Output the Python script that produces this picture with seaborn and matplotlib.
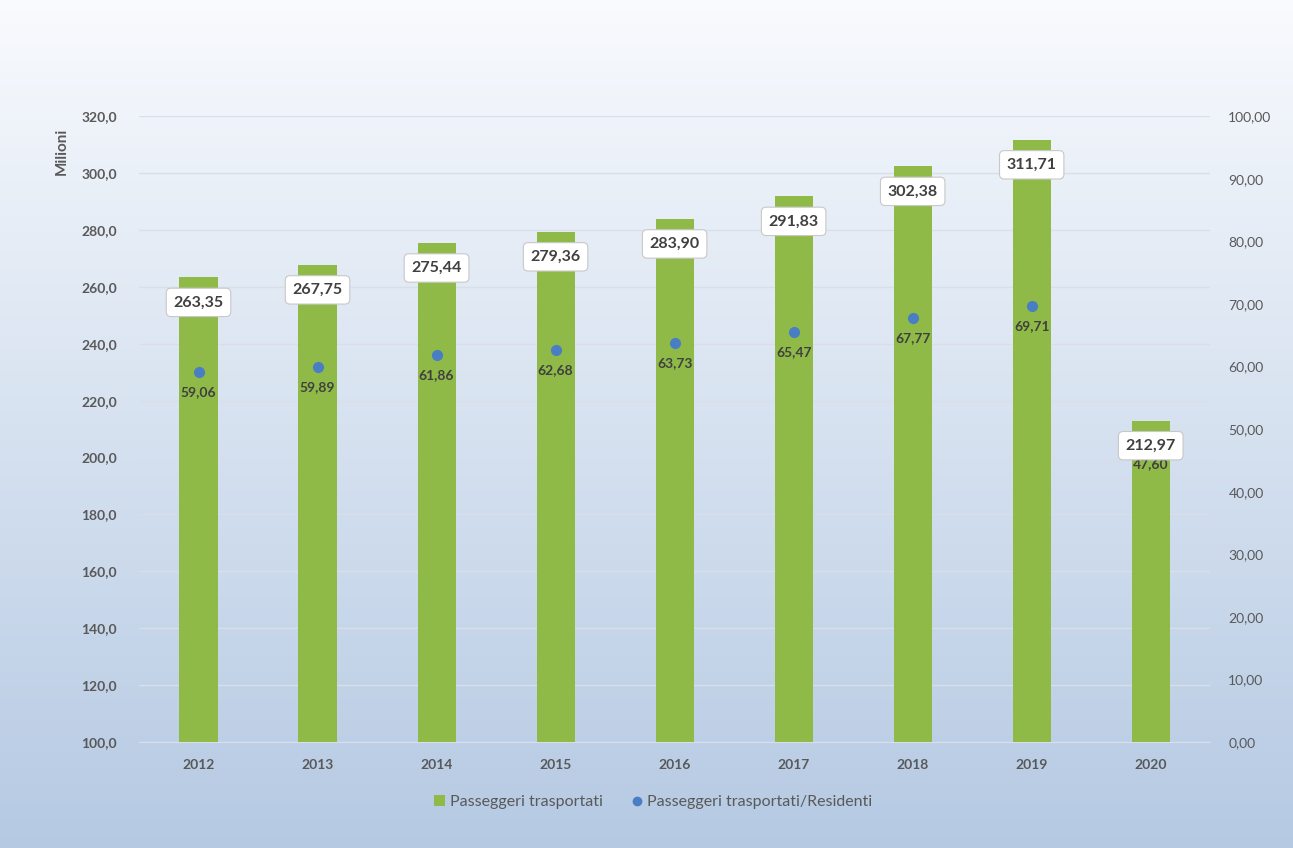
import numpy as np
import pandas as pd
import matplotlib.pyplot as plt
import seaborn as sns
from matplotlib.patches import Patch
from matplotlib.lines import Line2D

anni = ["2012", "2013", "2014", "2015", "2016", "2017", "2018", "2019", "2020"]
passeggeri = [263.35, 267.75, 275.44, 279.36, 283.90, 291.83, 302.38, 311.71, 212.97]
pass_residenti = [59.06, 59.89, 61.86, 62.68, 63.73, 65.47, 67.77, 69.71, 47.60]

df = pd.DataFrame({"anno": anni, "passeggeri": passeggeri, "ratio": pass_residenti})

GREEN = "#8fba48"
BLUE = "#4a7ec4"
GREY = "#595959"

sns.set_style("white")
plt.rcParams["font.family"] = ["Lato", "DejaVu Sans"]

fig = plt.figure(figsize=(12.93, 8.48), dpi=100)

# background gradient
bg = fig.add_axes([0, 0, 1, 1], zorder=-10)
grad = np.linspace(0, 1, 256).reshape(-1, 1)
top = np.array([0.975, 0.982, 0.995])
bot = np.array([0.71, 0.79, 0.89])
img = top + (bot - top) * grad[:, :, None]
bg.imshow(img, aspect="auto", extent=[0, 1, 0, 1])
bg.axis("off")

ax = fig.add_axes([0.1075, 0.125, 0.8285, 0.738])
ax.patch.set_alpha(0)
sns.barplot(data=df, x="anno", y="passeggeri", color=GREEN, width=0.32,
            saturation=1, edgecolor="none", linewidth=0, ax=ax, zorder=3)
ax.set_ylim(100, 320)
ax.set_yticks(np.arange(100, 321, 20))
ax.set_yticklabels([f"{v:.1f}".replace(".", ",") for v in np.arange(100, 321, 20)])
ax.yaxis.grid(True, color="#d9dfe8", linewidth=1, zorder=0)
ax.set_axisbelow(True)
ax.set_xlabel("")
ax.set_ylabel("")
for s in ax.spines.values():
    s.set_visible(False)
ax.spines["bottom"].set_visible(True)
ax.spines["bottom"].set_color("#d9dfe8")
ax.tick_params(axis="y", length=0, pad=16, labelsize=10, labelcolor=GREY)
ax.tick_params(axis="x", length=0, pad=12, labelsize=10, labelcolor=GREY)
for t in ax.get_xticklabels() + ax.get_yticklabels():
    t.set_fontweight("bold")
ax.text(-0.072, 0.944, "Milioni", transform=ax.transAxes, rotation=90,
        ha="center", va="center", fontsize=11, fontweight="bold", color=GREY)

ax2 = ax.twinx()
sns.pointplot(data=df, x="anno", y="ratio", color=BLUE, linestyle="none",
              markers="o", markersize=6, ax=ax2, zorder=4)
ax2.set_ylim(0, 100)
ax2.set_yticks(np.arange(0, 101, 10))
ax2.set_yticklabels([f"{v:.2f}".replace(".", ",") for v in np.arange(0, 101, 10)])
ax2.tick_params(axis="y", length=0, pad=13, labelsize=10, labelcolor=GREY)
ax2.set_ylabel("")
for s in ax2.spines.values():
    s.set_visible(False)

# dot labels
for i, v in enumerate(pass_residenti):
    ax2.annotate(f"{v:.2f}".replace(".", ","), (i, v), xytext=(0, -10),
                 textcoords="offset points", ha="center", va="top",
                 fontsize=10, fontweight="bold", color="#404040", zorder=6)

# bar labels
for i, v in enumerate(passeggeri):
    ax2.annotate(f"{v:.2f}".replace(".", ","), (i, (v - 100) / 220 * 100),
                 xytext=(0, -13), textcoords="offset points", ha="center", va="top",
                 fontsize=11.5, fontweight="bold", color="#404040", zorder=7,
                 bbox=dict(boxstyle="round,pad=0.45,rounding_size=0.3",
                           fc="white", ec="#c8c8c8", lw=0.8))

handles = [
    Patch(facecolor=GREEN, edgecolor="none", label="Passeggeri trasportati"),
    Line2D([], [], marker="o", color="none", markerfacecolor=BLUE,
           markeredgecolor=BLUE, markersize=6, label="Passeggeri trasportati/Residenti"),
]
fig.legend(handles=handles, loc="center", bbox_to_anchor=(0.505, 0.054), ncol=2,
           frameon=False, fontsize=11.5, labelcolor=GREY, handlelength=0.7,
           handleheight=0.7, handletextpad=0.3, columnspacing=1.8)

fig.savefig("out.png", dpi=100)
